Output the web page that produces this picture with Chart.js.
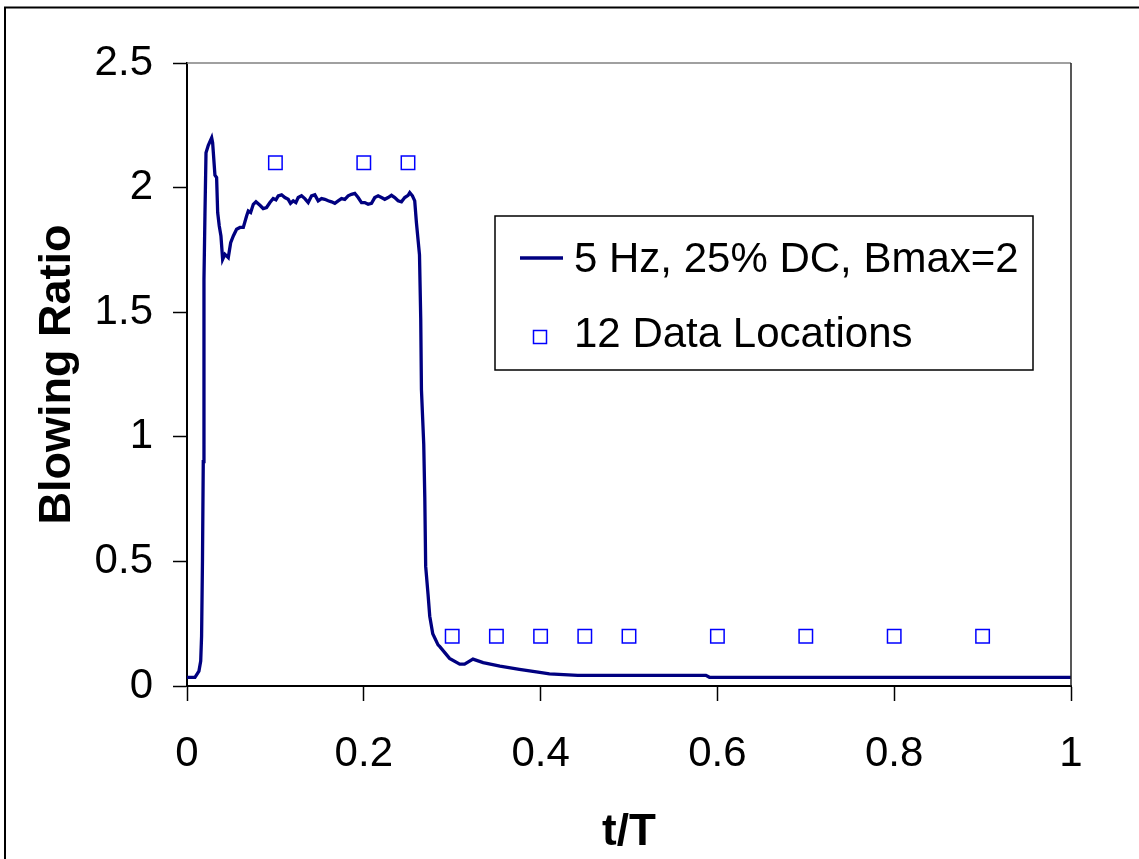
<!DOCTYPE html>
<html>
<head>
<meta charset="utf-8">
<title>Blowing Ratio</title>
<script src="https://cdn.jsdelivr.net/npm/chart.js@4/dist/chart.umd.min.js"></script>
<style>
  html, body { margin: 0; padding: 0; background: #fff; }
  canvas { display: block; }
</style>
</head>
<body>
<canvas id="chart" width="1139" height="859"></canvas>
<script>
// Measured blowing ratio trace over one pulse period
const tValues = [
  0, 0.009, 0.0135, 0.0155, 0.0165, 0.0175, 0.0184, 0.0192, 0.0203, 0.0215,
  0.0241, 0.0279, 0.0290, 0.0316, 0.0335, 0.0347, 0.0365, 0.0384, 0.0403, 0.0429,
  0.0467, 0.0494, 0.0524, 0.0561, 0.0599, 0.0637, 0.0674, 0.0693, 0.0720, 0.0750, 0.0780,
  0.0825, 0.0862, 0.0900, 0.0938, 0.0975, 0.1006, 0.1032, 0.1070, 0.1107, 0.1145,
  0.1171, 0.1202, 0.1232, 0.1258, 0.1296, 0.1333, 0.1371, 0.1409, 0.1446, 0.1484,
  0.1522, 0.1559, 0.1597, 0.1635, 0.1672, 0.1710, 0.1748, 0.1785, 0.1823, 0.1861,
  0.1898, 0.1936, 0.1974, 0.2011, 0.2049, 0.2087, 0.2124, 0.2162, 0.2200, 0.2237,
  0.2275, 0.2313, 0.2350, 0.2388, 0.2426, 0.2463, 0.2501, 0.2520, 0.2550, 0.2576,
  0.2595, 0.2630, 0.2644, 0.2652, 0.2678, 0.2690, 0.2700, 0.2727, 0.2746, 0.2780,
  0.2840, 0.2860, 0.2970, 0.3085, 0.3140, 0.3235, 0.3350, 0.3540, 0.3760, 0.3990,
  0.4100, 0.4420, 0.5870, 0.5910, 1.0
];
const blowingRatio = [
  0.035, 0.035, 0.06, 0.10, 0.20, 0.50, 0.90, 1.63, 1.89, 2.14,
  2.17, 2.20, 2.18, 2.05, 2.04, 1.90, 1.846, 1.806, 1.712, 1.732,
  1.719, 1.779, 1.806, 1.833, 1.84, 1.84, 1.886, 1.906, 1.90, 1.933, 1.943,
  1.929, 1.916, 1.920, 1.940, 1.956, 1.951, 1.967, 1.971, 1.960, 1.953,
  1.937, 1.947, 1.940, 1.960, 1.967, 1.956, 1.940, 1.967, 1.971, 1.947,
  1.956, 1.953, 1.947, 1.943, 1.937, 1.947, 1.956, 1.953, 1.967, 1.973,
  1.977, 1.960, 1.940, 1.940, 1.933, 1.937, 1.960, 1.967, 1.960, 1.953,
  1.960, 1.969, 1.960, 1.947, 1.943, 1.960, 1.969, 1.980, 1.967, 1.947,
  1.86, 1.73, 1.475, 1.19, 0.97, 0.756, 0.48, 0.367, 0.28, 0.21,
  0.165, 0.158, 0.111, 0.088, 0.088, 0.108, 0.094, 0.080, 0.067, 0.055,
  0.049, 0.043, 0.043, 0.035, 0.035
];

// Phases where data were taken
const sampleTimes = [0.1, 0.2, 0.25, 0.3, 0.35, 0.4, 0.45, 0.5, 0.6, 0.7, 0.8, 0.9];
const sampleRatio = [2.1, 2.1, 2.1, 0.2, 0.2, 0.2, 0.2, 0.2, 0.2, 0.2, 0.2, 0.2];

const xTicks = [0, 0.2, 0.4, 0.6, 0.8, 1];
const xTickLabels = ['0', '0.2', '0.4', '0.6', '0.8', '1'];
const yTicks = [0, 0.5, 1, 1.5, 2, 2.5];
const yTickLabels = ['0', '0.5', '1', '1.5', '2', '2.5'];

const seriesLabels = ['5 Hz, 25% DC, Bmax=2', '12 Data Locations'];

const FONT = '"Liberation Sans", Arial, Helvetica, sans-serif';
const LINE_COLOR = '#000080';
const MARK_COLOR = '#0000ff';

const lineData = tValues.map((t, i) => ({ x: t, y: blowingRatio[i] }));
const markData = sampleTimes.map((t, i) => ({ x: t, y: sampleRatio[i] }));

// page frame, plot frame and boxed legend
const framePlugin = {
  id: 'frame',
  beforeDraw(chart) {
    const ctx = chart.ctx;
    ctx.save();
    ctx.fillStyle = '#fff';
    ctx.fillRect(0, 0, chart.width, chart.height);
    ctx.restore();
  },
  afterDraw(chart) {
    const ctx = chart.ctx;
    const a = chart.chartArea;
    ctx.save();
    // outer frame
    ctx.strokeStyle = '#000';
    ctx.lineWidth = 2;
    ctx.beginPath();
    ctx.moveTo(5, chart.height);
    ctx.lineTo(5, 7.5);
    ctx.lineTo(chart.width, 7.5);
    ctx.stroke();
    // plot area top / right edges
    ctx.lineWidth = 1.5;
    ctx.strokeStyle = '#808080';
    ctx.beginPath();
    ctx.moveTo(a.left, a.top);
    ctx.lineTo(a.right, a.top);
    ctx.stroke();
    ctx.strokeStyle = '#202020';
    ctx.beginPath();
    ctx.moveTo(a.right, a.top);
    ctx.lineTo(a.right, a.bottom);
    ctx.stroke();

    // legend
    const box = { x: 495, y: 216, w: 538, h: 154 };
    ctx.fillStyle = '#fff';
    ctx.fillRect(box.x, box.y, box.w, box.h);
    ctx.strokeStyle = '#000';
    ctx.lineWidth = 1.5;
    ctx.strokeRect(box.x, box.y, box.w, box.h);

    ctx.strokeStyle = LINE_COLOR;
    ctx.lineWidth = 3.3;
    ctx.beginPath();
    ctx.moveTo(520, 258);
    ctx.lineTo(563, 258);
    ctx.stroke();

    ctx.strokeStyle = MARK_COLOR;
    ctx.lineWidth = 1.5;
    ctx.strokeRect(533.5, 330.5, 13, 13);

    ctx.fillStyle = '#000';
    ctx.font = '42px ' + FONT;
    ctx.textAlign = 'left';
    ctx.textBaseline = 'alphabetic';
    ctx.fillText(seriesLabels[0], 574, 272);
    ctx.fillText(seriesLabels[1], 574, 347);
    ctx.restore();
  }
};

new Chart(document.getElementById('chart'), {
  type: 'scatter',
  data: {
    datasets: [
      {
        label: seriesLabels[0],
        data: lineData,
        showLine: true,
        borderColor: LINE_COLOR,
        borderWidth: 3.3,
        pointRadius: 0,
        tension: 0,
        order: 2
      },
      {
        label: seriesLabels[1],
        data: markData,
        showLine: false,
        pointStyle: 'rect',
        pointRadius: 9.5,
        pointBorderWidth: 1.5,
        pointBorderColor: MARK_COLOR,
        pointBackgroundColor: '#fff',
        order: 1
      }
    ]
  },
  options: {
    responsive: false,
    animation: false,
    devicePixelRatio: 1,
    layout: { padding: { top: 63, right: 68, left: 0, bottom: 0 } },
    plugins: {
      legend: { display: false },
      tooltip: { enabled: false }
    },
    scales: {
      x: {
        type: 'linear',
        min: 0,
        max: 1,
        afterBuildTicks: s => { s.ticks = xTicks.map(v => ({ value: v })); },
        afterFit: s => { s.height = 173; },
        ticks: {
          callback: (v, i) => xTickLabels[i],
          font: { family: FONT, size: 42 },
          color: '#000',
          padding: 28,
          maxRotation: 0,
          autoSkip: false
        },
        grid: {
          drawOnChartArea: false,
          drawTicks: true,
          tickLength: 15,
          tickColor: '#000',
          tickWidth: 1.5
        },
        border: { color: '#000', width: 2 },
        title: {
          display: true,
          text: 't/T',
          color: '#000',
          font: { family: FONT, size: 44, weight: 'bold' },
          padding: { top: 16, bottom: 0 }
        }
      },
      y: {
        type: 'linear',
        min: 0,
        max: 2.5,
        afterBuildTicks: s => { s.ticks = yTicks.map(v => ({ value: v })); },
        afterFit: s => { s.width = 187; },
        ticks: {
          callback: (v, i) => yTickLabels[i],
          font: { family: FONT, size: 42 },
          color: '#000',
          padding: 20,
          autoSkip: false
        },
        grid: {
          drawOnChartArea: false,
          drawTicks: true,
          tickLength: 14,
          tickColor: '#000',
          tickWidth: 1.5
        },
        border: { color: '#000', width: 2 },
        title: {
          display: true,
          text: 'Blowing Ratio',
          color: '#000',
          font: { family: FONT, size: 45, weight: 'bold' },
          padding: { top: 31, bottom: 0 }
        }
      }
    }
  },
  plugins: [framePlugin]
});
</script>
</body>
</html>
